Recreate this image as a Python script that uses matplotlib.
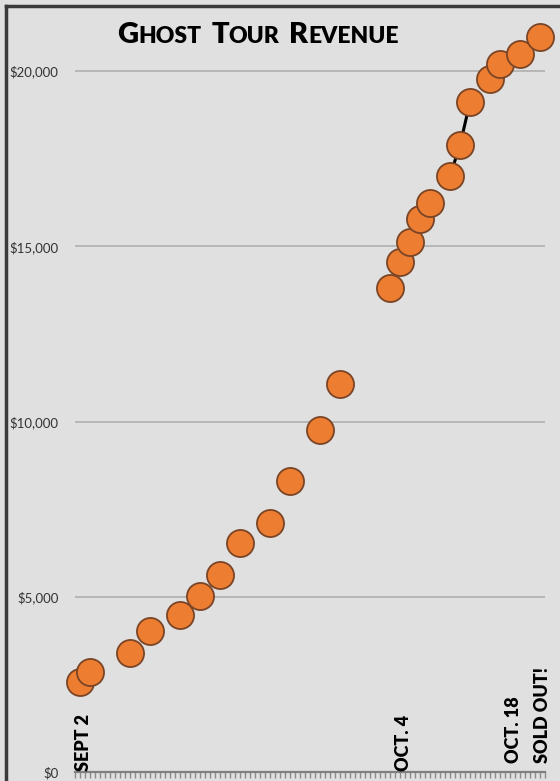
import numpy as np
import pandas as pd
import matplotlib
matplotlib.use('Agg')
import matplotlib.pyplot as plt
import matplotlib.dates as mdates
from matplotlib.offsetbox import TextArea, HPacker, AnchoredOffsetbox, DrawingArea
from matplotlib.lines import Line2D

# ticket sales
sale_dates = ['2019-09-02', '2019-09-03', '2019-09-07', '2019-09-09', '2019-09-12',
              '2019-09-14', '2019-09-16', '2019-09-18', '2019-09-21', '2019-09-23',
              '2019-09-26', '2019-09-28', '2019-10-03', '2019-10-04', '2019-10-05',
              '2019-10-06', '2019-10-07', '2019-10-09', '2019-10-10', '2019-10-11',
              '2019-10-13', '2019-10-14', '2019-10-16', '2019-10-18']
revenue = [2570, 2860, 3400, 4030, 4490, 5030, 5630, 6540, 7110, 8290, 9770, 11060,
           13800, 14540, 15110, 15770, 16230, 17000, 17890, 19110, 19770, 20200,
           20490, 20970]

ytick_values = [0, 5000, 10000, 15000, 20000]
ytick_labels = ['$0', '$5,000', '$10,000', '$15,000', '$20,000']

note_dates = ['2019-09-02', '2019-10-04', '2019-10-18']
note_texts = ['SEPT 2', 'OCT. 4', 'OCT. 18']
sold_out_text = 'SOLD OUT!'

title_parts = [('G', True), ('HOST', False), (' ', None), ('T', True), ('OUR', False),
               (' ', None), ('R', True), ('EVENUE', False)]

FONT = 'Lato'
BG = '#e0e0e0'
ORANGE = '#ED7D31'

# daily series, missing days -> NaN so the line breaks like in Excel
s = pd.Series(revenue, index=pd.to_datetime(sale_dates)).asfreq('D')

fig = plt.figure(figsize=(5.6, 7.81), dpi=100, facecolor=BG)
ax = fig.add_axes([75/560, 9/781, 470/560, (772-36)/781])
ax.set_facecolor(BG)

ax.plot(s.index, s.values, color='black', lw=2.2, marker='o', ms=19.5,
        mfc=ORANGE, mec='#7a4526', mew=1.3, clip_on=False, zorder=3)

first = mdates.date2num(pd.Timestamp(note_dates[0]))
last = mdates.date2num(pd.Timestamp(note_dates[-1]))
ax.set_xlim(first - 0.5, last + 0.5)
ax.set_ylim(0, 21000)

ax.set_yticks(ytick_values)
ax.set_yticklabels(ytick_labels, fontsize=9.5, family=FONT, color='#333333')
ax.tick_params(axis='y', length=0, pad=12)
ax.grid(axis='y', color='#b3b3b3', lw=1.3)
ax.set_axisbelow(True)

ax.set_xticks(np.arange(first - 0.5, last + 0.51, 0.5))
ax.set_xticklabels([])
ax.tick_params(axis='x', length=4, width=1, color='#8a8a8a', direction='out')

for side in ['top', 'right', 'left']:
    ax.spines[side].set_visible(False)
ax.spines['bottom'].set_color('#808080')
ax.spines['bottom'].set_linewidth(1.6)

# rotated date notes along the bottom
for d, t in zip(note_dates, note_texts):
    x = mdates.date2num(pd.Timestamp(d))
    if t == note_texts[-1]:
        ax.text(x - 2.7, 260, t, rotation=90, ha='center', va='bottom',
                fontsize=13, fontweight='heavy', family=FONT, zorder=4)
        ax.text(x + 0.2, 260, sold_out_text, rotation=90, ha='center', va='bottom',
                fontsize=13, fontweight='heavy', family=FONT, zorder=4)
    else:
        ax.text(x + 0.3, 40, t, rotation=90, ha='center', va='bottom',
                fontsize=13, fontweight='heavy', family=FONT, zorder=4)

# small-caps title
boxes = []
for txt, big in title_parts:
    if big is None:
        boxes.append(DrawingArea(7, 1))
    else:
        boxes.append(TextArea(txt, textprops=dict(fontsize=21 if big else 16.5,
                                                  fontweight='heavy', family=FONT)))
title = HPacker(children=boxes, align='baseline', pad=0, sep=0)
fig.add_artist(AnchoredOffsetbox(loc='center', child=title, frameon=False, pad=0,
                                 borderpad=0, bbox_to_anchor=(258/560, 1 - 35/781),
                                 bbox_transform=fig.transFigure))

# scanned page border
fig.add_artist(Line2D([6/560, 6/560], [0, 1 - 6/781], transform=fig.transFigure,
                      color='#3a3a3a', lw=2.5))
fig.add_artist(Line2D([6/560, 1], [1 - 6/781, 1 - 6/781], transform=fig.transFigure,
                      color='#3a3a3a', lw=2.5))

fig.savefig('out.png', dpi=100, facecolor=BG)
